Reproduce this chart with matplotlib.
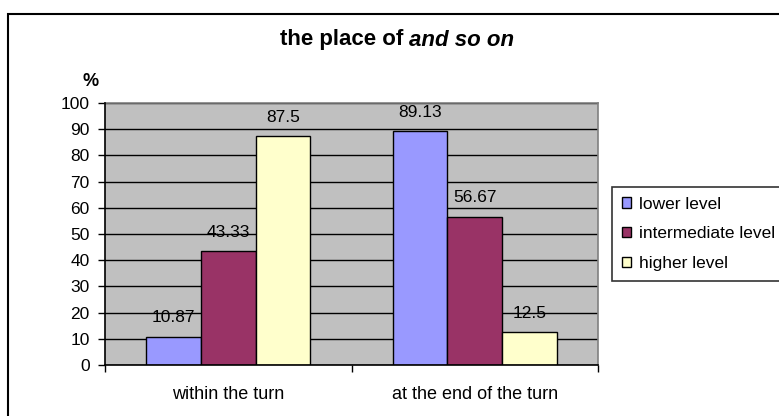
import numpy as np
import matplotlib
matplotlib.use("Agg")
import matplotlib.pyplot as plt
from matplotlib.patches import Rectangle, Patch

plt.rcParams['font.family'] = ['Liberation Sans', 'DejaVu Sans']

# data
categories = ["within the turn", "at the end of the turn"]
series_names = ["lower level", "intermediate level", "higher level"]
lower_level = [10.87, 89.13]
intermediate_level = [43.33, 56.67]
higher_level = [87.5, 12.5]
y_ticks = list(range(0, 101, 10))

colors = ["#9999FF", "#993366", "#FFFFCC"]

W, H = 779, 416
fig = plt.figure(figsize=(W / 100, H / 100), dpi=100)

# plot area in pixel coordinates
left, right, top, bottom = 105, 598, 103, 365
ax = fig.add_axes([left / W, 1 - bottom / H, (right - left) / W, (bottom - top) / H])
ax.set_facecolor("#C0C0C0")

x = np.arange(len(categories))
bar_w = 1 / 4.5  # excel gap width 150%
values = [lower_level, intermediate_level, higher_level]
for i, (vals, col) in enumerate(zip(values, colors)):
    xs = x + (i - 1) * bar_w
    ax.bar(xs, vals, width=bar_w, color=col, edgecolor="black", linewidth=1, zorder=3)
    for xi, v in zip(xs, vals):
        ax.annotate(f"{v:g}", (xi, v), xytext=(0, 13.5), textcoords="offset points",
                    ha="center", va="center", fontsize=12.5, zorder=4)

ax.set_xlim(-0.5, len(categories) - 0.5)
ax.set_ylim(0, 100)
ax.set_yticks(y_ticks)
ax.yaxis.grid(True, color="black", linewidth=1, zorder=1)
ax.set_axisbelow(True)

ax.set_xticks(x)
ax.set_xticklabels(categories)
ax.set_xticks(np.arange(-0.5, len(categories), 1.0), minor=True)
ax.tick_params(axis="x", which="major", length=0, pad=15, labelsize=13)
ax.tick_params(axis="x", which="minor", length=5, width=1, direction="out")
ax.tick_params(axis="y", length=5, width=1, pad=6, labelsize=12.5)

for s in ["top", "right"]:
    ax.spines[s].set_color("#808080")
    ax.spines[s].set_linewidth(1.2)
for s in ["left", "bottom"]:
    ax.spines[s].set_color("black")
    ax.spines[s].set_linewidth(1.2)
    ax.spines[s].set_zorder(5)

# outer chart frame (cut off at right and bottom)
fig.patches.append(Rectangle((8 / W, -0.1), 1.2, 1.1 - 14.5 / H, transform=fig.transFigure,
                             fill=False, edgecolor="black", linewidth=1.5))

# title with italic part
renderer = fig.canvas.get_renderer()
ty = 1 - 40 / H
t1 = fig.text(0, ty, "the place of ", fontsize=16, fontweight="bold", va="center")
t2 = fig.text(0, ty, "and so on", fontsize=16, fontweight="bold", style="italic", va="center")
w1 = t1.get_window_extent(renderer).width
w2 = t2.get_window_extent(renderer).width
x0 = 397 - (w1 + w2) / 2
t1.set_x(x0 / W)
t2.set_x((x0 + w1) / W)

fig.text(91 / W, 1 - 82 / H, "%", fontsize=13, fontweight="bold", ha="center", va="center")

handles = [Patch(facecolor=c, edgecolor="black", linewidth=1) for c in colors]
leg = fig.legend(handles, series_names, loc="upper left", bbox_to_anchor=(612 / W, 1 - 187 / H),
                 frameon=True, fancybox=False, edgecolor="black", fontsize=12.5,
                 handlelength=0.55, handleheight=0.55, handletextpad=0.45,
                 labelspacing=0.85, borderpad=0.55, borderaxespad=0)
leg.get_frame().set_linewidth(1.2)

fig.savefig("out.png", dpi=100)
